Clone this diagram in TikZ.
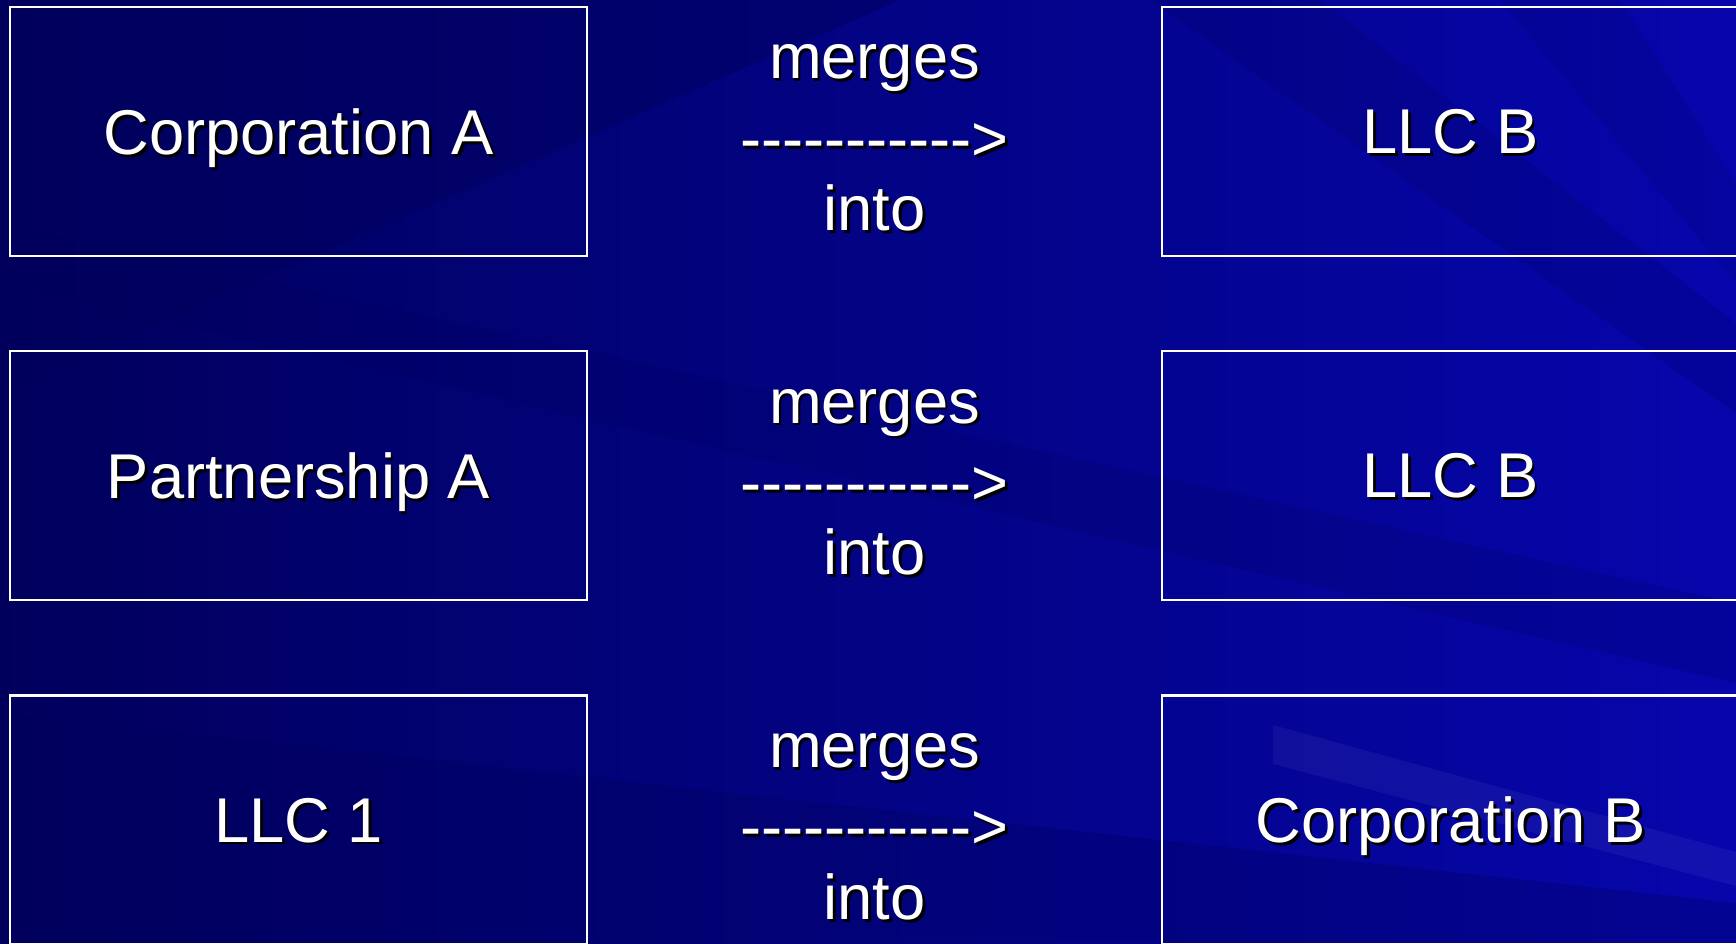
\documentclass[tikz,border=0pt]{standalone}
\usepackage{fontspec}
\setmainfont{Liberation Sans}
\usetikzlibrary{positioning}
\definecolor{navydark}{RGB}{0,0,92}
\definecolor{navymid}{RGB}{0,0,135}
\definecolor{navylight}{RGB}{6,6,172}
% white text with a small black drop shadow
\newcommand{\shadowed}[1]{\makebox[0pt][l]{\hspace{0.8pt}\raisebox{-0.8pt}{\textcolor{black}{#1}}}#1}
\tikzset{
  entity/.style={draw=white, line width=0.7pt, minimum width=5.77cm, minimum height=2.49cm,
    inner sep=0pt, text depth=0pt, text=white, font=\fontsize{18}{21.6}\selectfont},
  mergetext/.style={align=center, inner sep=0pt, text=white, font=\fontsize{18}{21.6}\selectfont}
}
\begin{document}
\begin{tikzpicture}
  % background
  \shade[left color=navydark, right color=navylight] (0,0) rectangle (17.36,9.43);
  \fill[navydark, opacity=0.45] (0,9.43) -- (9,9.43) -- (0,5.5) -- cycle;
  \fill[navydark, opacity=0.3] (0,2.3) -- (17.36,0.4) -- (17.36,0) -- (0,0) -- cycle;
  \fill[navydark, opacity=0.2] (11.5,9.43) -- (13.2,9.43) -- (17.36,6.2) -- (17.36,5.3) -- cycle;
  \fill[navydark, opacity=0.2] (0,7.2) -- (0,6.6) -- (17.36,2.6) -- (17.36,3.4) -- cycle;
  \fill[navydark, opacity=0.15] (15.0,9.43) -- (16.2,9.43) -- (17.36,7.6) -- (17.36,6.6) -- cycle;
  \fill[white, opacity=0.05] (12.73,2.18) -- (17.36,0.91) -- (17.36,0.57) -- (12.73,1.79) -- cycle;
  \useasboundingbox (0,0) rectangle (17.36,9.43);

  \foreach \lname/\rname [count=\r] in {Corporation A/LLC B, Partnership A/LLC B, LLC 1/Corporation B} {
    \node[entity] (src\r) at (2.985, 8.115-3.4425*\r+3.4425) {\shadowed{\lname}};
    \node[entity] (dst\r) at (14.505, 8.115-3.4425*\r+3.4425) {\shadowed{\rname}};
    \node[mergetext] (mid\r) at (8.745, 8.035-3.4425*\r+3.4425)
      {\shadowed{merges}\\\raisebox{-1.6pt}{\shadowed{-{}-{}-{}-{}-{}-{}-{}-{}-{}-{}->}}\\\shadowed{into}};
  }
\end{tikzpicture}
\end{document}
